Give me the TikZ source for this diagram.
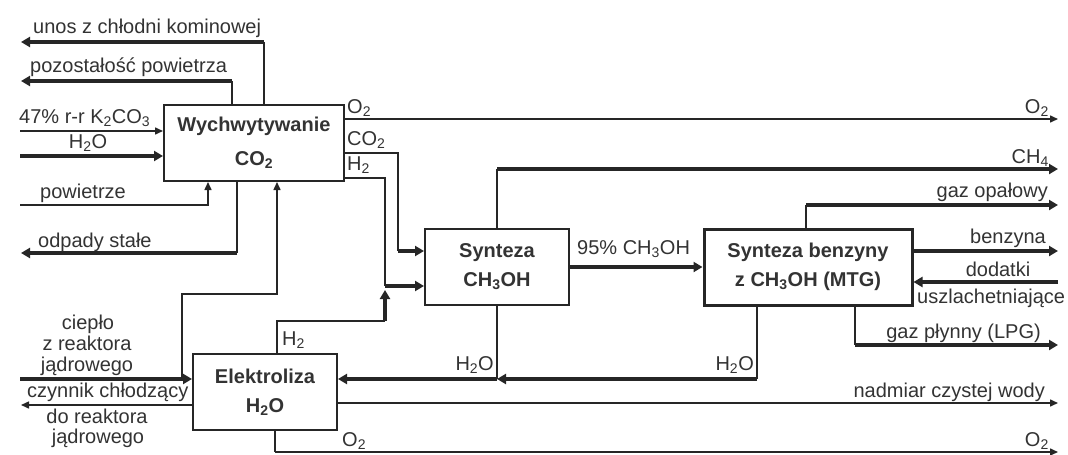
\documentclass[tikz,border=0pt]{standalone}
\usepackage{fontspec}
\setmainfont{Liberation Sans}
\usetikzlibrary{arrows.meta}
\newcommand{\dn}[1]{\textsubscript{#1}}
\definecolor{ink}{HTML}{262626}
\definecolor{txt}{HTML}{333333}
\begin{document}
\begin{tikzpicture}[x=1pt,y=-1pt,
  every node/.style={font=\fontsize{20}{21}\selectfont, text=txt, inner sep=0pt},
  thinline/.style={draw=ink, line width=1.5pt},
  thickline/.style={draw=ink, line width=3.8pt},
  bigtip/.style={-{Triangle[length=9pt,width=10pt]}},
  smalltip/.style={-{Triangle[length=8pt,width=7pt]}},
  box/.style={draw=ink, line width=2pt, align=center, fill=white,
    font=\bfseries\fontsize{20}{29}\selectfont},
  lbl/.style={anchor=base west},
  lblr/.style={anchor=base east},
  lblc/.style={anchor=base},
]
\useasboundingbox (0,0) rectangle (1068,455);
\fill[white] (0,0) rectangle (1068,455);

% boxes
\node[box, minimum width=180pt, minimum height=76pt] (W) at (254,143) {Wychwytywanie\\[5pt]CO\dn{2}};
\node[box, minimum width=144pt, minimum height=76pt] (S) at (497,267) {Synteza\\CH\dn{3}OH};
\node[box, minimum width=208pt, minimum height=76pt, line width=3pt] (M) at (808,267) {Synteza benzyny\\z CH\dn{3}OH (MTG)};
\node[box, minimum width=144pt, minimum height=76pt] (E) at (265,392) {Elektroliza\\H\dn{2}O};

% free ends and corners
\coordinate (unosK) at (264,42);   \coordinate (unosE) at (21,42);
\coordinate (pozK) at (232,81);    \coordinate (pozE) at (21,81);
\coordinate (inK) at (20,131);
\coordinate (inH) at (20,156);
\coordinate (inP) at (20,205);
\coordinate (odK) at (237,253);    \coordinate (odE) at (21,253);
\coordinate (heatS) at (20,379);   \coordinate (hb) at (182,379);
\coordinate (coolE) at (21,405);
\coordinate (o2E) at (1058,119);
\coordinate (co2K) at (398,251);
\coordinate (h2K) at (385,286);
\coordinate (h2L) at (385,321);    \coordinate (h2T) at (385,290);
\coordinate (ch4K) at (497,169);   \coordinate (ch4E) at (1058,169);
\coordinate (goK) at (806,205);    \coordinate (goE) at (1058,205);
\coordinate (bzE) at (1058,251);
\coordinate (ddS) at (1058,282);
\coordinate (lpK) at (855,345);    \coordinate (lpE) at (1058,345);
\coordinate (hwK) at (757,379);
\coordinate (nwE) at (1058,403);
\coordinate (o2bK) at (275,452);   \coordinate (o2bE) at (1058,452);

% left side of W
\draw[thinline] ([xshift=10pt]W.north) -- (unosK);
\draw[thickline, bigtip] (unosK) -- (unosE);
\draw[thinline] ([xshift=-22pt]W.north) -- (pozK);
\draw[thickline, bigtip] (pozK) -- (pozE);
\draw[thinline, smalltip] (inK) -- (inK -| W.west);
\draw[thickline, bigtip] (inH) -- (inH -| W.west);
\draw[thinline, smalltip] (inP) -| ([xshift=-46pt]W.south);
\draw[thinline] ([xshift=-17pt]W.south) -- (odK);
\draw[thickline, bigtip] (odK) -- (odE);

% heat and cooling
\draw[thinline, smalltip] (hb) -- ++(0,-85) -| ([xshift=23pt]W.south);
\draw[thickline, bigtip] (heatS) -- (heatS -| E.west);
\draw[thinline, smalltip] (E.west |- coolE) -- (coolE);

% right of W
\draw[thinline, smalltip] ([yshift=24pt]W.east) -- (o2E);
\draw[thinline] ([yshift=-10pt]W.east) -| (co2K);
\draw[thickline, bigtip] (co2K) -- (co2K -| S.west);
\draw[thinline] ([yshift=-35pt]W.east) -| (h2K);
\draw[thickline, bigtip] (h2K) -- (h2K -| S.west);
\draw[thinline] ([xshift=12pt]E.north) |- (h2L);
\draw[thickline, bigtip] (h2L) -- (h2T);

% Synteza CH3OH
\draw[thinline] (S.north) -- (ch4K);
\draw[thickline, bigtip] (ch4K) -- (ch4E);
\draw[thickline, bigtip] (S.east) -- (M.west);

% MTG
\draw[thinline] (M.north -| goK) -- (goK);
\draw[thickline, bigtip] (goK) -- (goE);
\draw[thickline, bigtip] (M.east |- bzE) -- (bzE);
\draw[thickline, bigtip] (ddS) -- (M.east |- ddS);
\draw[thinline] (M.south -| lpK) -- (lpK);
\draw[thickline, bigtip] (lpK) -- (lpE);
\draw[thinline] (M.south -| hwK) -- (hwK);
\draw[thickline, bigtip] (hwK) -- (S.south |- hwK);
\draw[thinline] (S.south) -- (S.south |- hwK);
\draw[thickline, bigtip] (S.south |- hwK) -- (E.east |- hwK);

% Elektroliza outputs
\draw[thinline, smalltip] (E.east |- nwE) -- (nwE);
\draw[thinline] (E.south -| o2bK) -- (o2bK);
\draw[thinline, smalltip] (o2bK) -- (o2bE);

% labels
\node[lbl] (t1) at (33,33) {unos z chłodni kominowej};
\node[lbl] (t2) at (30,72) {pozostałość powietrza};
\node[lbl] (t3) at (19,123) {47\% r-r K\dn{2}CO\dn{3}};
\node[lblc] (t4) at (88,148) {H\dn{2}O};
\node[lbl] (t5) at (40,198) {powietrze};
\node[lbl] (t6) at (38,247) {odpady stałe};
\node[lblc] (t7) at (88,329) {ciepło};
\node[lblc] (t8) at (87,350) {z reaktora};
\node[lblc] (t9) at (87,371) {jądrowego};
\node[lbl] (t10) at (27,397) {czynnik chłodzący};
\node[lblc] (t11) at (97,423) {do reaktora};
\node[lblc] (t12) at (98,443) {jądrowego};
\node[lbl] (t13) at (347,113) {O\dn{2}};
\node[lbl] (t14) at (347,145) {CO\dn{2}};
\node[lbl] (t15) at (347,170) {H\dn{2}};
\node[lbl] (t16) at (282,345) {H\dn{2}};
\node[lbl] (t17) at (577,254) {95\% CH\dn{3}OH};
\node[lblr] (t18) at (494,370) {H\dn{2}O};
\node[lblr] (t19) at (754,370) {H\dn{2}O};
\node[lbl] (t20) at (342,446) {O\dn{2}};
\node[lblr] (t21) at (1049,113) {O\dn{2}};
\node[lblr] (t22) at (1049,163) {CH\dn{4}};
\node[lblr] (t23) at (1048,197) {gaz opałowy};
\node[lblr] (t24) at (1046,243) {benzyna};
\node[lblc] (t25) at (998,276) {dodatki};
\node[lbl] (t26) at (917,303) {uszlachetniające};
\node[lblr] (t27) at (1041,338) {gaz płynny (LPG)};
\node[lblr] (t28) at (1045,397) {nadmiar czystej wody};
\node[lblr] (t29) at (1049,446) {O\dn{2}};
\end{tikzpicture}
\end{document}
